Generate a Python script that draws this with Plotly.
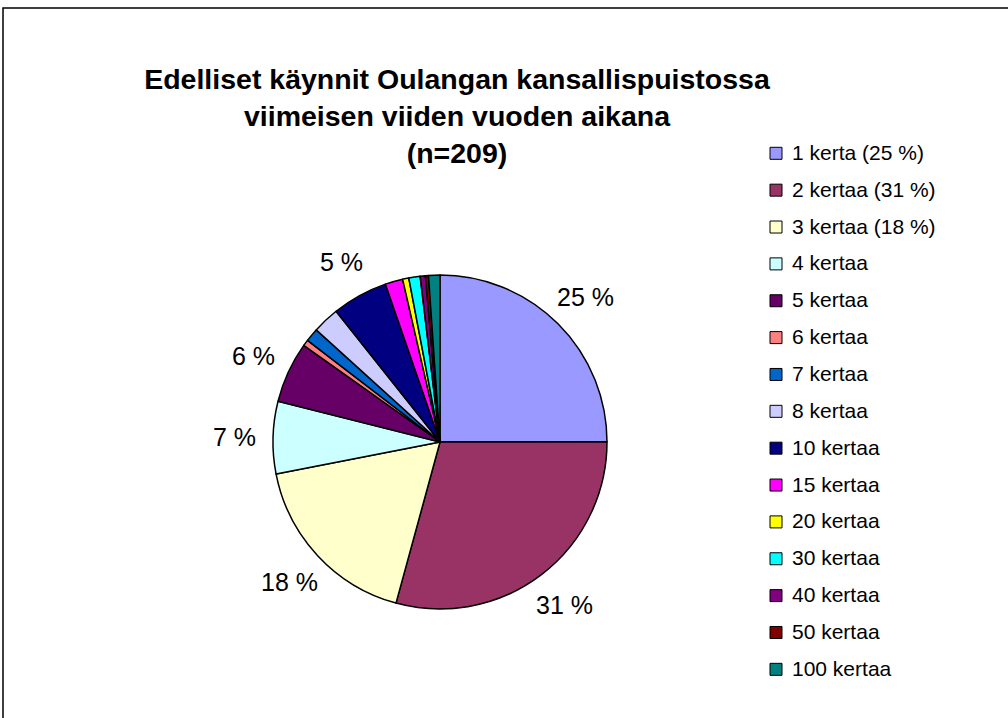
import math

import plotly.graph_objects as go

# data (share of the pie, in percent)
categories = ['1 kerta (25 %)', '2 kertaa (31 %)', '3 kertaa (18 %)', '4 kertaa', '5 kertaa',
              '6 kertaa', '7 kertaa', '8 kertaa', '10 kertaa', '15 kertaa',
              '20 kertaa', '30 kertaa', '40 kertaa', '50 kertaa', '100 kertaa']
values = [25.0, 29.3, 17.7, 7.0, 5.9, 0.6, 1.3, 2.6, 5.4, 1.7, 0.6, 1.1, 0.5, 0.3, 1.1]
slice_text = ['25 %', '31 %', '18 %', '7 %', '6 %', '', '', '', '5 %', '', '', '', '', '', '']
colors = ['#9999FF', '#993366', '#FFFFCC', '#CCFFFF', '#660066', '#FF8080', '#0066CC', '#CCCCFF',
          '#000080', '#FF00FF', '#FFFF00', '#00FFFF', '#800080', '#800000', '#008080']
title = 'Edelliset käynnit Oulangan kansallispuistossa<br>viimeisen viiden vuoden aikana<br>(n=209)'

W, H = 1008, 718
cx, cy, r = 440, 442, 167
FONT = 'Arial, Liberation Sans, sans-serif'

fig = go.Figure(go.Pie(
    labels=categories,
    values=values,
    sort=False,
    direction='clockwise',
    rotation=0,
    textinfo='none',
    marker=dict(colors=colors, line=dict(color='black', width=1.5)),
    domain=dict(x=[(cx - r) / W, (cx + r) / W], y=[1 - (cy + r) / H, 1 - (cy - r) / H]),
    showlegend=False,
))

annotations = []
shapes = []

# slice labels outside the pie, placed at each slice's mid angle
total = sum(values)
cum = 0
for v, t in zip(values, slice_text):
    mid = (cum + v / 2) / total * 2 * math.pi
    cum += v
    if not t:
        continue
    d = r * 1.23
    annotations.append(dict(
        x=(cx + d * math.sin(mid)) / W, y=1 - (cy - d * math.cos(mid)) / H,
        xref='paper', yref='paper', text=t, showarrow=False,
        xanchor='center', yanchor='middle', font=dict(family=FONT, size=25, color='black')))

# legend drawn by hand so the row spacing matches the original
for i, (name, c) in enumerate(zip(categories, colors)):
    yc = 153.3 + 36.86 * i
    shapes.append(dict(type='rect', xref='paper', yref='paper',
                       x0=770 / W, x1=782 / W, y0=1 - (yc + 6) / H, y1=1 - (yc - 6) / H,
                       fillcolor=c, line=dict(color='black', width=1)))
    annotations.append(dict(
        x=790 / W, y=1 - (yc - 1) / H, xref='paper', yref='paper', text=name, showarrow=False,
        xanchor='left', yanchor='middle', font=dict(family=FONT, size=21, color='black')))

# chart area border
shapes.append(dict(type='rect', xref='paper', yref='paper',
                   x0=3 / W, x1=1.05, y0=-0.05, y1=1 - 8 / H,
                   line=dict(color='black', width=1.5), fillcolor='rgba(0,0,0,0)'))

fig.update_layout(
    width=W, height=H,
    margin=dict(l=0, r=0, t=0, b=0),
    paper_bgcolor='white',
    title=dict(text='<b>' + title.replace('<br>', '</b><br><b>') + '</b>',
               x=457 / W, xanchor='center', y=1 - 89 / H, yanchor='top', yref='container',
               font=dict(family=FONT, size=28.5, color='black')),
    annotations=annotations,
    shapes=shapes,
)

# the page's default body margin would shift the chart by 8px
fig.write_html('out.html', config={'displayModeBar': False},
               post_script="document.body.style.margin = '0';")
